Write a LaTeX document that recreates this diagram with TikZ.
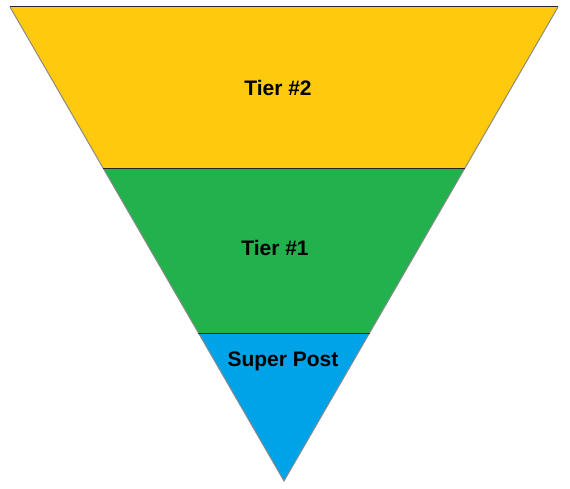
\documentclass[tikz,border=0pt]{standalone}
\usepackage{fontspec}
\setmainfont{Liberation Sans}
\usetikzlibrary{calc}
\definecolor{tieryellow}{HTML}{FFC90E}
\definecolor{tiergreen}{HTML}{22B14C}
\definecolor{tierblue}{HTML}{00A2E8}
\definecolor{edgegray}{HTML}{8A8A8A}
\tikzset{
  label/.style={font=\fontsize{21}{25}\selectfont\bfseries, text=black, inner sep=0pt},
  sep/.style={draw=black!85, line width=1pt},
  outline/.style={draw=edgegray, line width=1pt}
}
\begin{document}
\begin{tikzpicture}[x=1pt,y=-1pt]
\useasboundingbox (0,0) rectangle (570,489);
\coordinate (TL) at (10,7);
\coordinate (TR) at (558,7);
\coordinate (A) at (284,481);
\coordinate (L1) at ($(TL)!0.3397!(A)$);
\coordinate (R1) at ($(TR)!0.3397!(A)$);
\coordinate (L2) at ($(TL)!0.6878!(A)$);
\coordinate (R2) at ($(TR)!0.6878!(A)$);
\fill[tieryellow] (TL) -- (TR) -- (R1) -- (L1) -- cycle;
\fill[tiergreen] (L1) -- (R1) -- (R2) -- (L2) -- cycle;
\fill[tierblue] (L2) -- (R2) -- (A) -- cycle;
\draw[outline] (TR) -- (A) -- (TL);
\draw[sep] (TL) -- (TR);
\draw[sep] (L1) -- (R1);
\draw[sep] (L2) -- (R2);
\node[label] (t2) at (278,88) {Tier \#2};
\node[label] (t1) at (275,248) {Tier \#1};
\node[label] (sp) at (283,361) {Super Post};
\end{tikzpicture}
\end{document}
